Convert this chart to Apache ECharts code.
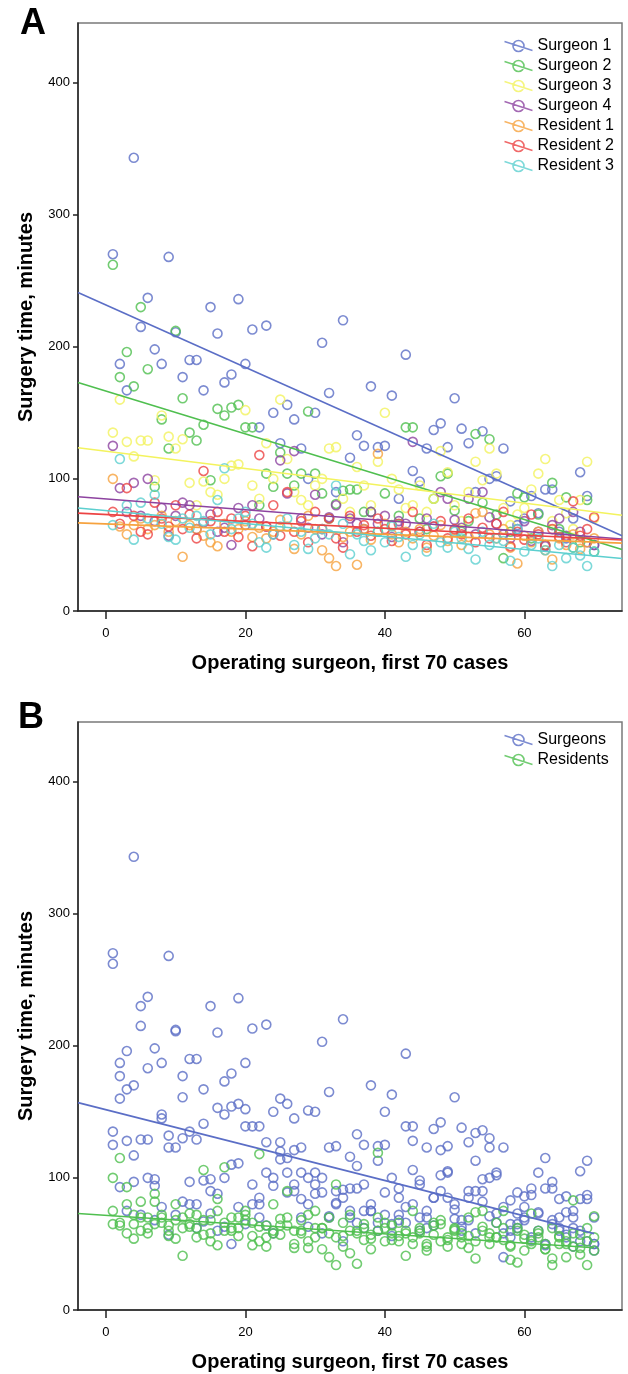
<!DOCTYPE html>
<html>
<head>
<meta charset="utf-8">
<script src="https://cdn.jsdelivr.net/npm/echarts@6/dist/echarts.min.js"></script>
<style>
html, body { margin: 0; padding: 0; background: #fff; }
#chart { width: 628px; height: 1374px; }
</style>
</head>
<body>
<div id="chart"></div>
<script>
// case number (x) shared by every operator
const caseNo = Array.from({ length: 70 }, (_, i) => i + 1);

// surgery time in minutes
const surgeon1 = [
  270,187,167,343,215,237,198,187,268,211,
  177,190,190,167,230,210,173,179,236,187,
  213,139,216,150,127,156,145,123,100,150,
  203,165,90,220,116,133,125,170,124,125,
  163,85,194,106,98,123,137,142,124,161,
  138,127,90,136,100,102,123,83,65,70,
  87,74,92,92,60,55,70,105,87,50];
const surgeon2 = [
  262,177,196,170,230,183,94,145,123,212,
  161,135,129,141,99,153,148,154,156,139,
  139,80,104,94,120,104,95,104,151,104,
  89,70,81,91,92,92,75,75,60,89,
  65,72,139,139,70,62,85,102,104,76,
  60,68,134,82,130,73,40,60,89,86,
  55,73,50,97,62,86,48,52,84,45];
const surgeon3 = [
  135,160,128,117,129,129,99,148,132,123,
  130,97,80,98,90,88,100,110,111,152,
  95,85,127,100,160,115,90,84,80,95,
  100,123,124,85,75,109,95,80,113,150,
  100,92,78,80,95,75,85,121,105,80,
  68,90,113,99,123,104,78,65,73,78,
  92,104,115,68,84,74,62,84,113,70];
const surgeon4 = [
  125,93,75,97,72,100,68,78,57,72,
  82,80,62,67,73,60,63,50,78,65,
  80,70,64,58,114,89,121,70,63,88,
  58,71,80,52,70,66,62,75,66,72,
  56,68,66,128,60,70,64,90,85,69,
  63,85,58,90,71,66,58,55,62,68,
  53,60,49,65,70,57,75,60,52,50];
const resident1 = [
  100,64,58,65,70,62,65,72,60,68,
  41,65,62,57,52,49,66,60,62,68,
  56,63,55,60,69,64,47,58,72,62,
  46,40,34,56,60,35,62,54,119,66,
  58,52,60,55,62,48,57,65,53,61,
  50,56,74,75,58,55,62,48,36,57,
  52,60,46,39,55,50,58,47,52,55];
const resident2 = [
  75,66,93,72,60,58,82,70,64,80,
  62,73,55,106,68,75,60,70,56,72,
  49,118,64,80,57,90,60,68,52,75,
  62,70,55,48,72,60,65,57,70,62,
  53,66,58,75,60,50,64,68,55,62,
  58,70,52,63,55,66,75,49,60,54,
  73,58,50,62,56,52,83,57,62,71];
const resident3 = [
  65,115,80,54,82,70,88,66,56,54,
  70,63,72,68,58,84,108,62,70,75,
  66,52,48,58,64,70,50,60,47,55,
  62,58,95,66,43,58,53,46,60,52,
  64,56,41,50,58,45,66,52,48,60,
  55,47,39,60,50,55,53,38,62,45,
  50,55,46,34,50,40,48,42,34,45];

const namesA = ['Surgeon 1','Surgeon 2','Surgeon 3','Surgeon 4','Resident 1','Resident 2','Resident 3'];
const valuesA = [surgeon1, surgeon2, surgeon3, surgeon4, resident1, resident2, resident3];
// linear fit lines (intercept, slope)
const fitInterceptA = [231.6, 166.5, 120.9, 84.8, 65.9, 73.0, 76.0];
const fitSlopeA = [-2.36, -1.62, -0.654, -0.41, -0.196, -0.26, -0.49];

const namesB = ['Surgeons', 'Residents'];
const fitInterceptB = [151.6, 71.6];
const fitSlopeB = [-1.34, -0.35];

const xTicks = [0, 20, 40, 60];
const yTicks = [0, 100, 200, 300, 400];

const colorsA = ['#5b6ec6', '#4fbf4f', '#f3f35e', '#8d43a0', '#f6a23e', '#ec4343', '#5ccfcf'];
const colorsB = ['#5b6ec6', '#4fbf4f'];
const FONT = 'Liberation Sans';

const legendIcon = 'path://M8.5,6 a5.5,5.5 0 1,0 11,0 a5.5,5.5 0 1,0 -11,0 M0,1.5 L28,10.5';

function xAxisFor(idx, xMax) {
  return {
    type: 'value', gridIndex: idx, min: -4, max: xMax,
    name: 'Operating surgeon, first 70 cases', nameLocation: 'middle', nameGap: 42,
    nameTextStyle: { fontFamily: FONT, fontWeight: 'bold', fontSize: 20, color: '#000' },
    axisLine: { onZero: false, lineStyle: { color: '#222', width: 1.5 } },
    axisTick: { show: true, length: 8, customValues: xTicks, lineStyle: { color: '#222', width: 1.5 } },
    axisLabel: { customValues: xTicks, margin: 16, fontFamily: FONT, fontSize: 13, color: '#000' },
    splitLine: { show: false }
  };
}
function yAxisFor(idx) {
  return {
    type: 'value', gridIndex: idx, min: 0, max: 445,
    name: 'Surgery time, minutes', nameLocation: 'middle', nameGap: 42,
    nameTextStyle: { fontFamily: FONT, fontWeight: 'bold', fontSize: 20, color: '#000' },
    axisLine: { onZero: false, lineStyle: { color: '#222', width: 1.5 } },
    axisTick: { show: true, length: 5, customValues: yTicks, lineStyle: { color: '#222', width: 1.5 } },
    axisLabel: { customValues: yTicks, margin: 8, fontFamily: FONT, fontSize: 13, color: '#000' },
    splitLine: { show: false }
  };
}

function scatterSeries(name, pts, color, idx) {
  return {
    name: name, type: 'scatter', xAxisIndex: idx, yAxisIndex: idx,
    symbol: 'circle', symbolSize: 9,
    itemStyle: { color: 'rgba(0,0,0,0)', borderColor: color, borderWidth: 1.6 },
    data: pts, z: 2
  };
}
function fitSeries(name, b, m, x0, x1, color, idx) {
  return {
    name: name, type: 'line', xAxisIndex: idx, yAxisIndex: idx,
    showSymbol: false, silent: true,
    lineStyle: { color: color, width: 1.6 },
    data: [[x0, b + m * x0], [x1, b + m * x1]], z: 3
  };
}

const series = [];
valuesA.forEach((vals, i) => {
  series.push(scatterSeries(namesA[i], caseNo.map((c, k) => [c, vals[k]]), colorsA[i], 0));
});
valuesA.forEach((vals, i) => {
  series.push(fitSeries(namesA[i], fitInterceptA[i], fitSlopeA[i], -4, 74, colorsA[i], 0));
});

const surgeonsPts = [surgeon1, surgeon2, surgeon3, surgeon4].flatMap(v => caseNo.map((c, k) => [c, v[k]]));
const residentsPts = [resident1, resident2, resident3].flatMap(v => caseNo.map((c, k) => [c, v[k]]));
series.push(scatterSeries(namesB[0], surgeonsPts, colorsB[0], 1));
series.push(scatterSeries(namesB[1], residentsPts, colorsB[1], 1));
namesB.forEach((n, i) => {
  series.push(fitSeries(n, fitInterceptB[i], fitSlopeB[i], -4, 70, colorsB[i], 1));
});

function legendFor(names, colors, top) {
  return {
    orient: 'vertical', left: 502, top: top, padding: 0, itemGap: 4, itemWidth: 28, itemHeight: 12,
    selectedMode: false,
    textStyle: { fontFamily: FONT, fontSize: 16, color: '#000' },
    data: names.map((n, i) => ({
      name: n, icon: legendIcon,
      itemStyle: { color: 'none', borderColor: colors[i], borderWidth: 1.6 }
    }))
  };
}

const chart = echarts.init(document.getElementById('chart'), null, { renderer: 'canvas' });
chart.setOption({
  animation: false,
  backgroundColor: '#fff',
  grid: [
    { left: 78, top: 23, width: 544, height: 588, show: true, borderColor: '#7a7a7a', borderWidth: 1.5 },
    { left: 78, top: 722, width: 544, height: 588, show: true, borderColor: '#7a7a7a', borderWidth: 1.5 }
  ],
  xAxis: [xAxisFor(0, 74), xAxisFor(1, 74)],
  yAxis: [yAxisFor(0), yAxisFor(1)],
  legend: [legendFor(namesA, colorsA, 38), legendFor(namesB, colorsB, 732)],
  graphic: [
    { type: 'text', left: 20, top: 6, style: { text: 'A', font: 'bold 36px "Liberation Sans"', fill: '#000' } },
    { type: 'text', left: 18, top: 700, style: { text: 'B', font: 'bold 36px "Liberation Sans"', fill: '#000' } }
  ],
  series: series
});
</script>
</body>
</html>
